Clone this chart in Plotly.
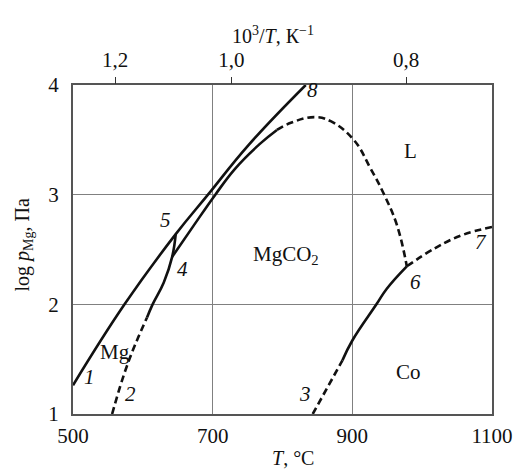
import plotly.graph_objects as go

# ---- data (T in °C, log p in Pa) ----
line18_T = [500, 573.8, 647.1, 693.3, 751, 833.3]
line18_y = [1.262, 2.0, 2.64, 3.0, 3.45, 4.0]

curve2_dash_T = [556, 578.4, 606]
curve2_dash_y = [1.0, 1.459, 1.88]
curve2_solid_T = [606, 614, 630, 642, 647.1]
curve2_solid_y = [1.88, 2.0, 2.2, 2.433, 2.64]

curve4_solid_T = [642, 673, 703.8, 732, 767.6, 792]
curve4_solid_y = [2.433, 2.72, 3.0, 3.236, 3.463, 3.59]
curve4_dash_T = [792, 812, 845.6, 869, 902, 926, 945, 964, 978]
curve4_dash_y = [3.59, 3.655, 3.707, 3.67, 3.50, 3.24, 3.008, 2.72, 2.347]

curve3_dash_T = [843.3, 885.8]
curve3_dash_y = [1.0, 1.489]
curve3_solid_T = [885.8, 900, 934.5, 949.6, 978]
curve3_solid_y = [1.489, 1.67, 2.0, 2.145, 2.347]
curve7_dash_T = [978, 1020.6, 1058.4, 1100]
curve7_dash_y = [2.347, 2.52, 2.634, 2.705]

x_ticks = [500, 700, 900, 1100]
y_ticks = [1, 2, 3, 4]
top_vals = [1.2, 1.0, 0.8]
top_labels = ["1,2", "1,0", "0,8"]

curve_labels = ["1", "2", "3", "4", "5", "6", "7", "8"]
curve_label_T = [524, 583, 831.5, 656.4, 633, 990, 1084.4, 843.3]
curve_label_y = [1.34, 1.185, 1.185, 2.32, 2.77, 2.20, 2.565, 3.95]

region_labels = ["Mg", "MgCO<sub>2</sub>", "L", "Co"]
region_T = [559.6, 805.4, 982.7, 980.4]
region_y = [1.564, 2.447, 3.398, 1.383]

FONT = "Liberation Serif"
LW = 2.6
DASH = "7px,4px"
COL = "#111111"

fig = go.Figure()

def add(xs, ys, dash=None):
    fig.add_trace(go.Scatter(
        x=xs, y=ys, mode="lines",
        line=dict(color=COL, width=LW, dash=dash or "solid", shape="spline", smoothing=1.2),
        showlegend=False, hoverinfo="skip"))

add(line18_T, line18_y)
add(curve2_dash_T, curve2_dash_y, DASH)
add(curve2_solid_T, curve2_solid_y)
add(curve4_solid_T, curve4_solid_y)
add(curve4_dash_T, curve4_dash_y, DASH)
add(curve3_dash_T, curve3_dash_y, DASH)
add(curve3_solid_T, curve3_solid_y)
add(curve7_dash_T, curve7_dash_y, DASH)

# invisible trace for top axis
top_pos = [1000.0 / v - 273.15 for v in top_vals]
fig.add_trace(go.Scatter(x=[500, 1100], y=[1, 1], xaxis="x2", mode="lines",
                         line=dict(width=0), showlegend=False, hoverinfo="skip"))

annotations = []
for t, xx, yy in zip(curve_labels, curve_label_T, curve_label_y):
    annotations.append(dict(x=xx, y=yy, xref="x", yref="y", text=f"<i>{t}</i>",
                            showarrow=False, font=dict(family=FONT, size=21, color=COL)))
for t, xx, yy in zip(region_labels, region_T, region_y):
    annotations.append(dict(x=xx, y=yy, xref="x", yref="y", text=t,
                            showarrow=False, font=dict(family=FONT, size=21, color=COL)))

annotations.append(dict(x=0.477, y=1.152, xref="paper", yref="paper",
                        xanchor="center", yanchor="middle",
                        text="10<sup>3</sup>/<i>T</i>, К<sup>−1</sup>", showarrow=False,
                        font=dict(family=FONT, size=20, color=COL)))
annotations.append(dict(x=0.524, y=-0.135, xref="paper", yref="paper",
                        xanchor="center", yanchor="middle",
                        text="<i>T</i>, °C", showarrow=False,
                        font=dict(family=FONT, size=20, color=COL)))
annotations.append(dict(x=-0.118, y=0.514, xref="paper", yref="paper",
                        xanchor="center", yanchor="middle",
                        text="log <i>p</i><sub>Mg</sub>, Па", showarrow=False, textangle=-90,
                        font=dict(family=FONT, size=20, color=COL)))

fig.update_layout(
    width=525, height=470,
    margin=dict(l=73, r=28.5, t=85, b=56),
    paper_bgcolor="white", plot_bgcolor="white",
    font=dict(family=FONT, size=21, color=COL),
    xaxis=dict(range=[500, 1100], tickvals=x_ticks, ticktext=[str(v) for v in x_ticks],
               showgrid=True, gridcolor="#808080", gridwidth=1.2,
               showline=True, linecolor="#555555", linewidth=2, mirror=True,
               ticks="", zeroline=False, ticklabelstandoff=2,
               tickfont=dict(family=FONT, size=21, color=COL)),
    xaxis2=dict(range=[500, 1100], overlaying="x", side="top", anchor="y",
                tickvals=top_pos, ticktext=top_labels, ticks="outside", ticklen=7,
                tickcolor="#333333", tickwidth=1.2, showgrid=False, showline=False,
                zeroline=False, ticklabelstandoff=2,
                tickfont=dict(family=FONT, size=21, color=COL)),
    yaxis=dict(range=[1, 4], tickvals=y_ticks, ticktext=[str(v) for v in y_ticks],
               showgrid=True, gridcolor="#808080", gridwidth=1.2,
               showline=True, linecolor="#555555", linewidth=2, mirror=True,
               ticks="", zeroline=False, ticklabelstandoff=8,
               tickfont=dict(family=FONT, size=21, color=COL)),
    annotations=annotations,
)

fig.write_html("out.html")
